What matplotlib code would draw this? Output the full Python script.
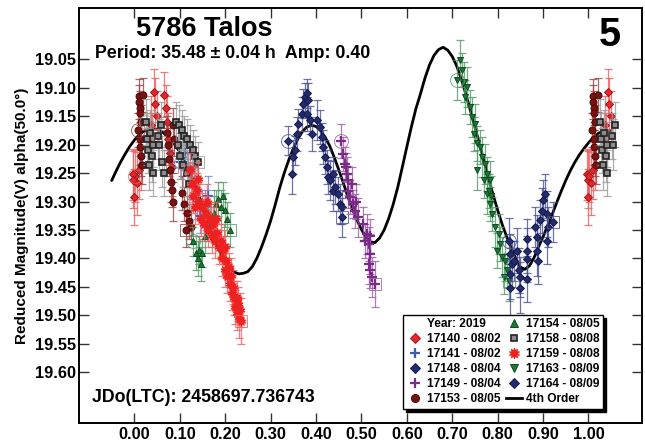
import matplotlib
matplotlib.use("Agg")
import matplotlib.pyplot as plt
import numpy as np
from matplotlib.lines import Line2D

plt.rcParams['font.family'] = ['Liberation Sans', 'DejaVu Sans']
plt.rcParams['font.weight'] = 'bold'

# ---------------------------------------------------------------- data
# 17140 - 08/02
s17140_phase = [0.002, 0.996, 0.998, 0.999, 0.006, 0.011, 0.015, 0.036, 0.039,
                0.044, 0.046, 0.049, 0.066, 0.069, 0.072, 0.075, 0.078, 0.082]
s17140_mag = [19.255, 19.252, 19.262, 19.292, 19.268, 19.245, 19.235, 19.165, 19.195,
              19.108, 19.128, 19.150, 19.112, 19.135, 19.160, 19.190, 19.215, 19.240]
s17140_err = [0.045, 0.045, 0.050, 0.050, 0.055, 0.050, 0.045, 0.050, 0.050,
              0.040, 0.045, 0.045, 0.040, 0.040, 0.045, 0.045, 0.050, 0.050]

# 17141 - 08/02
s17141_phase = [0.103, 0.112, 0.118, 0.125, 0.132, 0.138, 0.145, 0.155, 0.162]
s17141_mag = [19.230, 19.215, 19.245, 19.265, 19.240, 19.300, 19.325, 19.310, 19.290]
s17141_err = [0.030, 0.030, 0.030, 0.030, 0.035, 0.030, 0.030, 0.030, 0.035]

# 17148 - 08/04
s17148_phase = [0.339, 0.347, 0.350, 0.354, 0.358, 0.361, 0.369, 0.372, 0.376, 0.380,
                0.383, 0.380, 0.387, 0.391, 0.402, 0.409, 0.413, 0.416, 0.420, 0.424,
                0.427, 0.431, 0.438, 0.438, 0.442, 0.449, 0.453, 0.457, 0.457]
s17148_mag = [19.193, 19.251, 19.222, 19.210, 19.181, 19.163, 19.146, 19.128, 19.116, 19.110,
              19.122, 19.146, 19.157, 19.181, 19.157, 19.169, 19.187, 19.204, 19.222, 19.240,
              19.257, 19.263, 19.251, 19.281, 19.275, 19.286, 19.304, 19.310, 19.328]
s17148_err = [0.025, 0.035, 0.030, 0.025, 0.030, 0.025, 0.030, 0.025, 0.025, 0.025,
              0.030, 0.030, 0.025, 0.030, 0.035, 0.030, 0.025, 0.030, 0.030, 0.030,
              0.030, 0.035, 0.030, 0.035, 0.030, 0.030, 0.035, 0.030, 0.035]

# 17149 - 08/04
s17149_phase = [0.455, 0.460, 0.464, 0.466, 0.468, 0.471, 0.471, 0.475, 0.479, 0.482,
                0.486, 0.489, 0.493, 0.504, 0.508, 0.512, 0.516, 0.519, 0.519, 0.516,
                0.519, 0.523, 0.530]
s17149_mag = [19.193, 19.216, 19.234, 19.240, 19.251, 19.263, 19.281, 19.292, 19.270, 19.304,
              19.316, 19.300, 19.328, 19.339, 19.370, 19.357, 19.374, 19.360, 19.392, 19.410,
              19.421, 19.433, 19.445]
s17149_err = [0.030, 0.030, 0.030, 0.025, 0.030, 0.025, 0.030, 0.030, 0.030, 0.025,
              0.030, 0.030, 0.035, 0.030, 0.030, 0.035, 0.030, 0.030, 0.035, 0.035,
              0.030, 0.035, 0.040]

# 17153 - 08/05
s17153_phase = [0.008, 0.010, 0.011, 0.012, 0.013, 0.014, 0.012, 0.013, 0.014, 0.016,
                0.020, 0.072, 0.074, 0.076, 0.078, 0.080, 0.082, 0.084, 0.086, 0.088,
                0.105, 0.110, 0.115, 0.120, 0.125, 0.113]
s17153_mag = [19.175, 19.115, 19.125, 19.135, 19.145, 19.160, 19.190, 19.205, 19.220, 19.235,
              19.113, 19.180, 19.200, 19.225, 19.245, 19.265, 19.280, 19.300, 19.165, 19.190,
              19.285, 19.305, 19.320, 19.335, 19.345, 19.350]
s17153_err = [0.030, 0.030, 0.030, 0.030, 0.030, 0.030, 0.030, 0.030, 0.035, 0.035,
              0.030, 0.030, 0.030, 0.030, 0.035, 0.035, 0.030, 0.035, 0.030, 0.030,
              0.030, 0.030, 0.030, 0.030, 0.030, 0.030]

# 17154 - 08/05
s17154_phase = [0.128, 0.135, 0.140, 0.142, 0.146, 0.150, 0.155, 0.160, 0.168, 0.170,
                0.175, 0.180, 0.185, 0.190, 0.195, 0.200, 0.205, 0.210]
s17154_mag = [19.370, 19.390, 19.400, 19.385, 19.410, 19.390, 19.360, 19.340, 19.330, 19.350,
              19.320, 19.305, 19.295, 19.310, 19.290, 19.315, 19.330, 19.350]
s17154_err = [0.025, 0.030, 0.030, 0.025, 0.030, 0.025, 0.030, 0.030, 0.025, 0.030,
              0.030, 0.025, 0.030, 0.030, 0.025, 0.030, 0.030, 0.030]

# 17158 - 08/08
s17158_phase = [0.026, 0.028, 0.030, 0.032, 0.035, 0.038, 0.040, 0.042, 0.052, 0.055,
                0.058, 0.060, 0.065, 0.092, 0.095, 0.098, 0.100, 0.104, 0.108, 0.110,
                0.115, 0.116, 0.120, 0.122, 0.128, 0.134, 0.140]
s17158_mag = [19.160, 19.190, 19.210, 19.235, 19.180, 19.220, 19.250, 19.200, 19.185, 19.200,
              19.165, 19.230, 19.250, 19.160, 19.200, 19.165, 19.220, 19.175, 19.235, 19.185,
              19.250, 19.190, 19.270, 19.200, 19.210, 19.220, 19.230]
s17158_err = [0.040, 0.045, 0.040, 0.045, 0.040, 0.045, 0.040, 0.040, 0.040, 0.045,
              0.040, 0.045, 0.040, 0.035, 0.040, 0.035, 0.040, 0.035, 0.040, 0.035,
              0.040, 0.035, 0.040, 0.035, 0.035, 0.035, 0.035]

# 17159 - 08/08
s17159_phase = [0.122, 0.126, 0.130, 0.134, 0.138, 0.140, 0.142, 0.146, 0.150, 0.154,
                0.158, 0.160, 0.162, 0.166, 0.170, 0.174, 0.178, 0.180, 0.182, 0.186,
                0.190, 0.193, 0.196, 0.199, 0.200, 0.202, 0.205, 0.208, 0.210, 0.213,
                0.215, 0.218, 0.220, 0.222, 0.225, 0.227, 0.229, 0.231, 0.233, 0.235]
s17159_mag = [19.245, 19.270, 19.290, 19.310, 19.280, 19.260, 19.300, 19.330, 19.310, 19.340,
              19.320, 19.300, 19.350, 19.330, 19.360, 19.340, 19.370, 19.330, 19.355, 19.380,
              19.370, 19.400, 19.385, 19.420, 19.380, 19.405, 19.430, 19.415, 19.445, 19.430,
              19.460, 19.450, 19.470, 19.485, 19.470, 19.495, 19.480, 19.505, 19.490, 19.510]
s17159_err = [0.030, 0.030, 0.030, 0.030, 0.030, 0.030, 0.030, 0.030, 0.025, 0.030,
              0.030, 0.030, 0.030, 0.025, 0.030, 0.030, 0.030, 0.030, 0.025, 0.030,
              0.030, 0.030, 0.025, 0.030, 0.030, 0.030, 0.030, 0.025, 0.030, 0.030,
              0.030, 0.030, 0.030, 0.030, 0.030, 0.030, 0.030, 0.035, 0.030, 0.040]

# 17163 - 08/09
s17163_phase = [0.710, 0.717, 0.721, 0.725, 0.728, 0.732, 0.739, 0.743, 0.747, 0.750,
                0.754, 0.754, 0.761, 0.765, 0.769, 0.773, 0.776, 0.776, 0.780, 0.783,
                0.783, 0.786, 0.787, 0.794, 0.798, 0.802, 0.806, 0.809, 0.813, 0.817,
                0.820, 0.824]
s17163_mag = [19.087, 19.052, 19.069, 19.090, 19.116, 19.099, 19.134, 19.152, 19.181, 19.163,
              19.198, 19.245, 19.204, 19.222, 19.263, 19.234, 19.251, 19.286, 19.281, 19.263,
              19.304, 19.290, 19.322, 19.345, 19.386, 19.357, 19.374, 19.398, 19.433, 19.404,
              19.421, 19.439]
s17163_err = [0.035, 0.035, 0.030, 0.035, 0.030, 0.035, 0.030, 0.035, 0.030, 0.035,
              0.030, 0.035, 0.030, 0.035, 0.030, 0.035, 0.030, 0.035, 0.030, 0.035,
              0.030, 0.035, 0.030, 0.035, 0.030, 0.035, 0.030, 0.035, 0.030, 0.035,
              0.030, 0.035]

# 17164 - 08/09
s17164_phase = [0.824, 0.828, 0.831, 0.828, 0.828, 0.835, 0.842, 0.846, 0.850, 0.850,
                0.864, 0.864, 0.864, 0.864, 0.883, 0.886, 0.886, 0.890, 0.893, 0.897,
                0.901, 0.905, 0.908, 0.908, 0.912, 0.923]
s17164_mag = [19.369, 19.392, 19.410, 19.427, 19.451, 19.404, 19.386, 19.421, 19.433, 19.451,
              19.366, 19.386, 19.401, 19.436, 19.345, 19.363, 19.386, 19.404, 19.333, 19.316,
              19.298, 19.286, 19.322, 19.369, 19.345, 19.336]
s17164_err = [0.040, 0.035, 0.040, 0.045, 0.050, 0.035, 0.040, 0.040, 0.035, 0.045,
              0.035, 0.040, 0.040, 0.040, 0.035, 0.040, 0.045, 0.040, 0.035, 0.040,
              0.035, 0.035, 0.040, 0.040, 0.035, 0.035]

# 4th order Fourier fit, sampled
curve_phase = [-0.05, -0.04, -0.03, -0.02, -0.01, 0.00, 0.01, 0.02, 0.03, 0.04,
               0.05, 0.06, 0.07, 0.08, 0.09, 0.10, 0.11, 0.12, 0.13, 0.14,
               0.15, 0.16, 0.17, 0.18, 0.19, 0.20, 0.21, 0.22, 0.23, 0.24,
               0.25, 0.26, 0.27, 0.28, 0.29, 0.30, 0.31, 0.32, 0.33, 0.34,
               0.35, 0.36, 0.37, 0.38, 0.39, 0.40, 0.41, 0.42, 0.43, 0.44,
               0.45, 0.46, 0.47, 0.48, 0.49, 0.50, 0.51, 0.52, 0.53, 0.54,
               0.55, 0.56, 0.57, 0.58, 0.59, 0.60, 0.61, 0.62, 0.63, 0.64,
               0.65, 0.66, 0.67, 0.68, 0.69, 0.70, 0.71, 0.72, 0.73, 0.74,
               0.75, 0.76, 0.77, 0.78, 0.79, 0.80, 0.81, 0.82, 0.83, 0.84,
               0.85, 0.86, 0.87, 0.88, 0.89, 0.90, 0.91, 0.92, 0.93, 0.94,
               0.95, 0.96, 0.97, 0.98, 0.99, 1.00, 1.01, 1.02, 1.03, 1.04, 1.05]
curve_mag = [19.263, 19.246, 19.230, 19.216, 19.203, 19.192, 19.183, 19.177, 19.173, 19.172,
             19.173, 19.177, 19.183, 19.191, 19.201, 19.213, 19.228, 19.245, 19.264, 19.285,
             19.307, 19.330, 19.352, 19.373, 19.391, 19.406, 19.417, 19.424, 19.427, 19.426,
             19.423, 19.414, 19.399, 19.380, 19.358, 19.334, 19.306, 19.276, 19.250, 19.227,
             19.207, 19.190, 19.177, 19.169, 19.166, 19.168, 19.175, 19.187, 19.202, 19.222,
             19.244, 19.267, 19.291, 19.313, 19.332, 19.349, 19.362, 19.371, 19.372, 19.364,
             19.350, 19.330, 19.305, 19.275, 19.240, 19.204, 19.169, 19.137, 19.111, 19.083,
             19.060, 19.043, 19.033, 19.029, 19.034, 19.045, 19.062, 19.085, 19.111, 19.140,
             19.169, 19.199, 19.229, 19.259, 19.288, 19.315, 19.340, 19.362, 19.381, 19.400,
             19.415, 19.419, 19.413, 19.399, 19.380, 19.362, 19.343, 19.323, 19.302, 19.282,
             19.263, 19.246, 19.231, 19.218, 19.207, 19.197, 19.188, 19.181, 19.177, 19.175, 19.175]

session_labels = ["17140 - 08/02", "17141 - 08/02", "17148 - 08/04", "17149 - 08/04",
                  "17153 - 08/05", "17154 - 08/05", "17158 - 08/08", "17159 - 08/08",
                  "17163 - 08/09", "17164 - 08/09"]
year_label = "Year: 2019"
fit_label = "4th Order"
x_ticks = [0.0, 0.1, 0.2, 0.3, 0.4, 0.5, 0.6, 0.7, 0.8, 0.9, 1.0]
y_ticks = [19.05, 19.10, 19.15, 19.20, 19.25, 19.30, 19.35, 19.40, 19.45, 19.50, 19.55, 19.60]

# ---------------------------------------------------------------- styles
star = (10, 1, 0)
styles = [
    dict(marker='D', ms=4.2, mfc='#e8262a', mec='#a01418', ecol='#f05a5a'),
    dict(marker='+', ms=7.0, mfc='#3a5cb0', mec='#3a5cb0', ecol='#6f86c6', mew=1.6),
    dict(marker='D', ms=4.2, mfc='#232a70', mec='#141a4a', ecol='#4a5193'),
    dict(marker='+', ms=7.0, mfc='#7b2a87', mec='#7b2a87', ecol='#9a5aa5', mew=1.6),
    dict(marker='o', ms=5.0, mfc='#7a1212', mec='#4a0808', ecol='#9a4040'),
    dict(marker='^', ms=5.0, mfc='#1a7a35', mec='#0d4a1e', ecol='#4f9a65'),
    dict(marker='s', ms=4.0, mfc='#8c8c8c', mec='#222222', ecol='#9a9a9a', mew=1.2),
    dict(marker=star, ms=7.0, mfc='#ee2020', mec='#ee2020', ecol='#f06060'),
    dict(marker='v', ms=5.0, mfc='#1a7a35', mec='#0d4a1e', ecol='#4f9a65'),
    dict(marker='D', ms=4.2, mfc='#232a70', mec='#141a4a', ecol='#4a5193'),
]

sessions = [
    (s17140_phase, s17140_mag, s17140_err),
    (s17141_phase, s17141_mag, s17141_err),
    (s17148_phase, s17148_mag, s17148_err),
    (s17149_phase, s17149_mag, s17149_err),
    (s17153_phase, s17153_mag, s17153_err),
    (s17154_phase, s17154_mag, s17154_err),
    (s17158_phase, s17158_mag, s17158_err),
    (s17159_phase, s17159_mag, s17159_err),
    (s17163_phase, s17163_mag, s17163_err),
    (s17164_phase, s17164_mag, s17164_err),
]


def wrap(ph, mg, er):
    """Repeat points near phase 0/1 so the plot extends past one cycle."""
    ph, mg, er = np.asarray(ph), np.asarray(mg), np.asarray(er)
    lo = ph < 0.06
    hi = ph > 0.94
    x = np.concatenate([ph, ph[lo] + 1.0, ph[hi] - 1.0])
    y = np.concatenate([mg, mg[lo], mg[hi]])
    e = np.concatenate([er, er[lo], er[hi]])
    return x, y, e


fig = plt.figure(figsize=(6.45, 4.41), dpi=100)
ax = fig.add_axes([79 / 645, 18 / 441, 563 / 645, 415 / 441])

ax.plot(curve_phase, curve_mag, color='black', lw=2.0, zorder=1,
        solid_capstyle='round')

handles = [Line2D([], [], ls='none', marker=None)]
for i, ((ph, mg, er), st) in enumerate(zip(sessions, styles)):
    x, y, e = wrap(ph, mg, er)
    z = 2 + i * 0.1
    ax.errorbar(x, y, yerr=e, fmt='none', ecolor=st['ecol'], elinewidth=0.9,
                capsize=3, capthick=0.9, alpha=0.8, zorder=z)
    mew = st.get('mew', 0.7)
    ax.plot(x, y, ls='none', marker=st['marker'], ms=st['ms'], mfc=st['mfc'],
            mec=st['mec'], mew=mew, zorder=z + 0.05)
    # first and last point of each session
    ax.plot(ph[0], mg[0], ls='none', marker='o', ms=10, mfc='none',
            mec=st['ecol'], mew=0.7, alpha=0.8, zorder=z + 0.06)
    ax.plot(ph[-1], mg[-1], ls='none', marker='s', ms=9, mfc='none',
            mec=st['ecol'], mew=0.7, alpha=0.8, zorder=z + 0.06)
    handles.append(Line2D([], [], ls='none', marker=st['marker'],
                          ms=st['ms'] + 0.8, mfc=st['mfc'], mec=st['mec'], mew=mew))
handles.append(Line2D([], [], color='black', lw=2))
labels = [year_label] + session_labels + [fit_label]

ax.set_xlim(-0.122, 1.118)
ax.set_ylim(19.689, 18.960)
ax.set_xticks(x_ticks)
ax.set_xticklabels([f"{v:.2f}" for v in x_ticks])
ax.set_yticks(y_ticks)
ax.set_yticklabels([f"{v:.2f}" for v in y_ticks])
ax.tick_params(direction='in', top=True, right=True, length=7, width=1,
               labelsize=11.8, color='#333333')
ax.tick_params(axis='x', pad=3)
ax.tick_params(axis='y', pad=2)
for s in ax.spines.values():
    s.set_linewidth(1.4)

ax.set_ylabel("Reduced Magnitude(V) alpha(50.0°)", fontsize=11, fontweight='bold',
              labelpad=4)

leg = ax.legend(handles, labels, ncol=2, loc='lower right',
                bbox_to_anchor=(0.931, 0.034), borderaxespad=0, fontsize=8.6,
                frameon=True, fancybox=False, edgecolor='black',
                shadow={'color': 'black', 'alpha': 1.0},
                handlelength=1.3, handletextpad=0.35, columnspacing=0.5,
                labelspacing=0.25, borderpad=0.3)
leg.get_frame().set_linewidth(1.0)
for t in leg.get_texts():
    t.set_fontweight('bold')

fig.text(204 / 645, 1 - 29 / 441, "5786 Talos", ha='center', va='center',
         fontsize=19.5, fontweight='bold')
fig.text(95 / 645, 1 - 53.5 / 441, "Period: 35.48 \u00b1 0.04 h  Amp: 0.40",
         ha='left', va='center', fontsize=12.8, fontweight='bold')
fig.text(610 / 645, 1 - 35 / 441, "5", ha='center', va='center',
         fontsize=28.5, fontweight='bold')
fig.text(92.5 / 645, 1 - 397.5 / 441, "JDo(LTC): 2458697.736743", ha='left',
         va='center', fontsize=12.8, fontweight='bold')

fig.savefig("out.png", dpi=100)
